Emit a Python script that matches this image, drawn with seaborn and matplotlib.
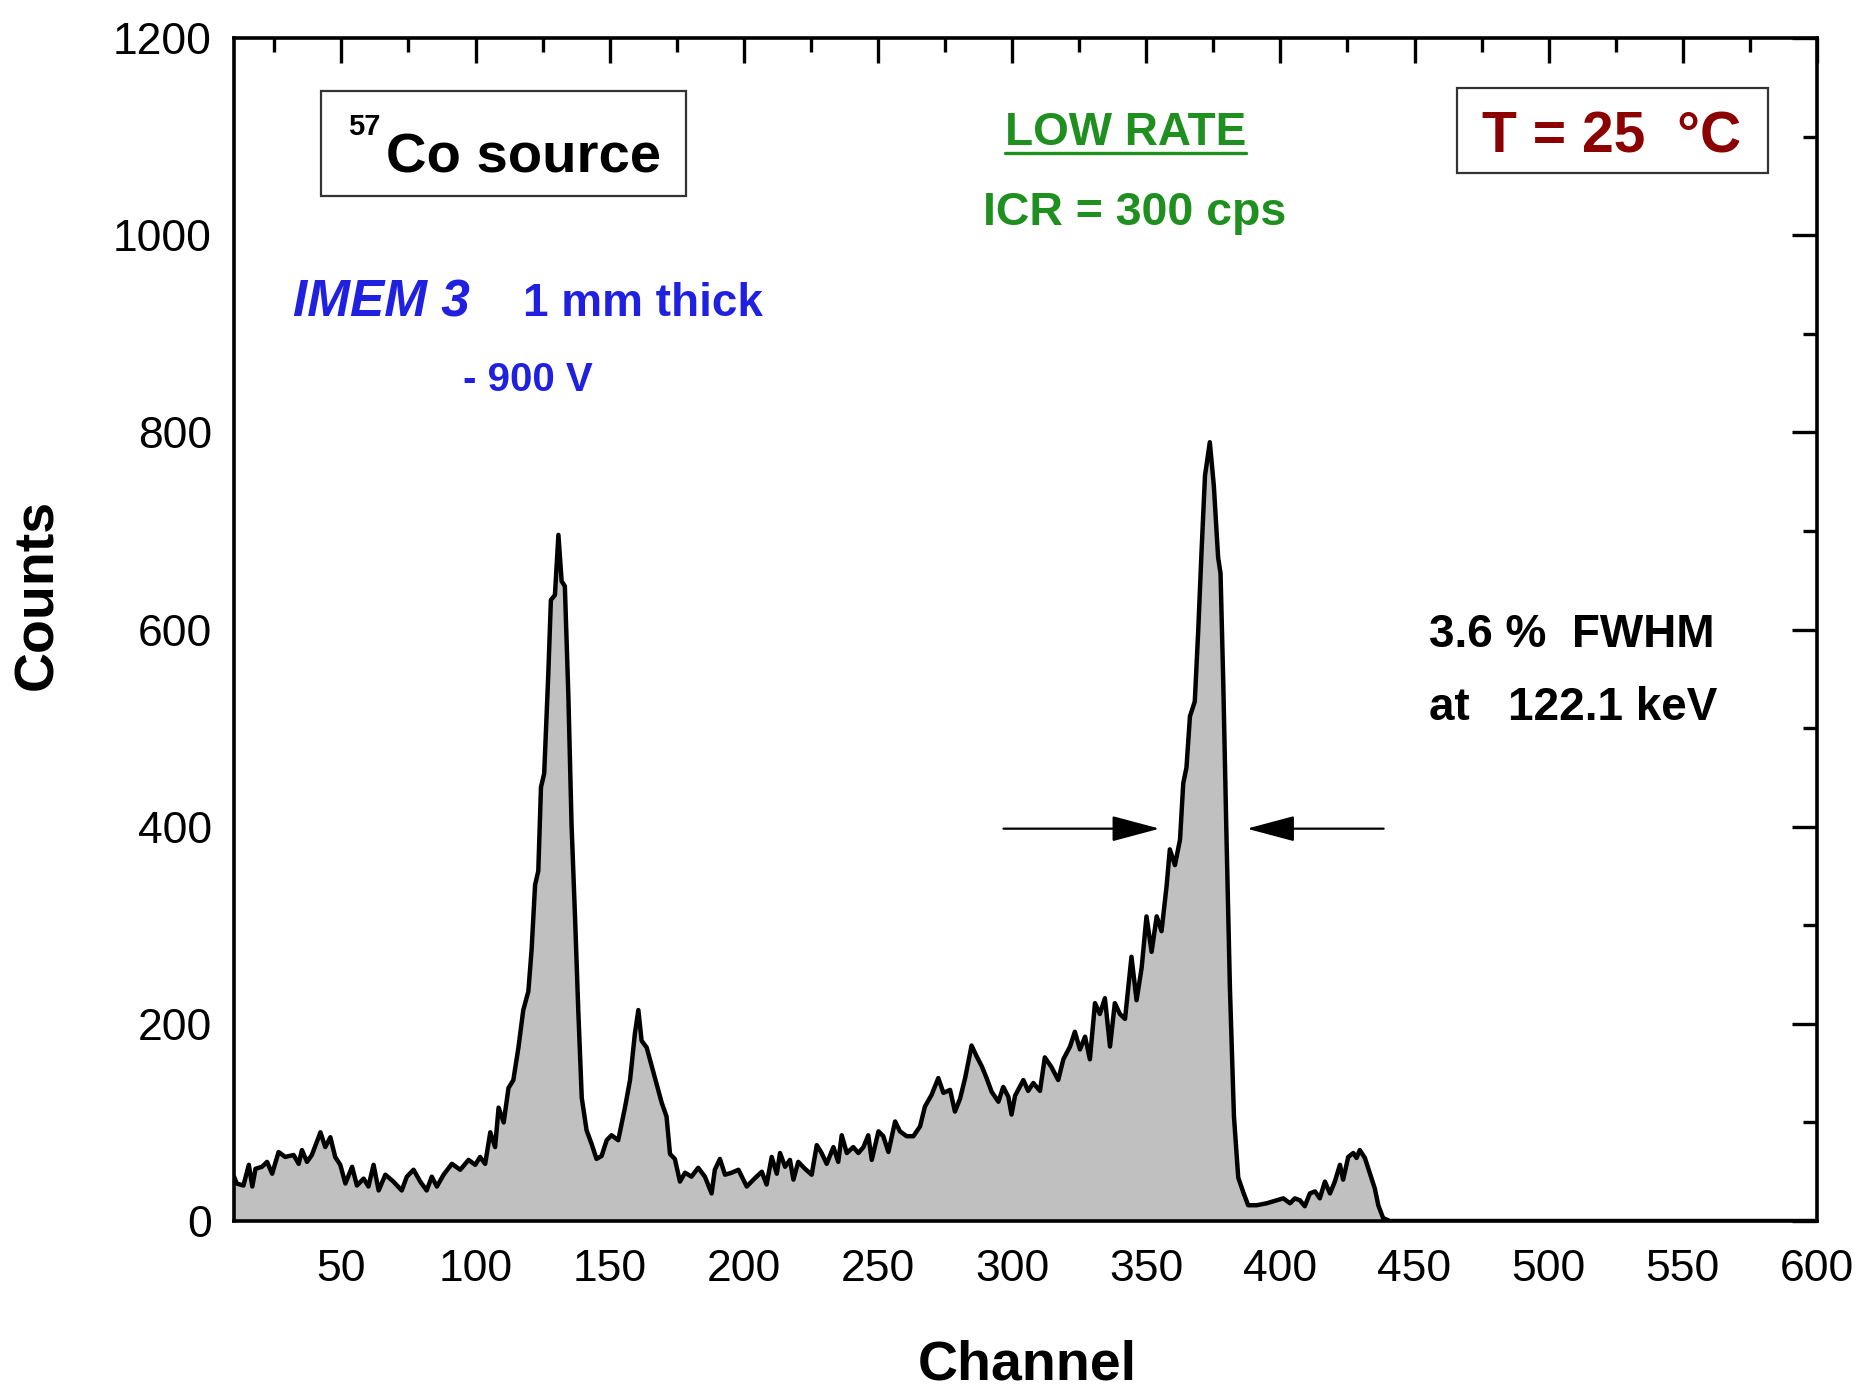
import numpy as np
import pandas as pd
import matplotlib
matplotlib.use("Agg")
import matplotlib.pyplot as plt
import seaborn as sns
from matplotlib.patches import Rectangle
from matplotlib.lines import Line2D
from matplotlib.ticker import MultipleLocator
from matplotlib.transforms import IdentityTransform

# ---- data ----
channel = [10, 11, 13.5, 15.5, 16.8, 18, 20.4, 22.3, 24.2, 26.6, 29.1, 32.2, 34.1, 35.3, 37.2, 39,
           42.2, 44, 45.9, 47.7, 49.6, 51.5, 54, 55.8, 58.3, 60.1, 62, 63.9, 66.4, 69.4, 72.5, 74.4,
           76.9, 79.4, 81.8, 83.7, 85.6, 88.1, 91.2, 94.3, 97.4, 99.9, 101.7, 103.6, 105.5, 107.3,
           108.6, 110.5, 112.3, 114.1, 116, 117.8, 119.7, 120.9, 122.2, 123.4, 124.4, 125.6, 127.1,
           128.1, 129.6, 130.9, 132.1, 133.3, 134.6, 135.8, 137.1, 138.3, 139.6, 141.4, 143.3, 145.1,
           147, 148.9, 150.7, 153.2, 155.7, 157.6, 159.4, 160.7, 161.9, 163.8, 165.6, 167.5, 169.4,
           171.2, 172.5, 174.3, 176.2, 178.1, 180.5, 183, 185.5, 188, 189.2, 191.1, 193, 195.5, 198,
           201.1, 203.6, 206.7, 208.5, 210.4, 212.3, 213.5, 215.4, 217.2, 218.5, 220.3, 222.8, 225.3,
           227.2, 229, 230.9, 233.4, 235.2, 236.5, 238.4, 240.8, 242.7, 244.6, 246.4, 247.7, 250.2,
           252, 253.9, 256.4, 258.2, 260.7, 263.2, 265.7, 267.5, 270, 272.5, 274.4, 276.9, 278.7,
           280.6, 282.5, 284.9, 286.8, 288.7, 290.5, 292.4, 294.9, 296.7, 298.6, 299.8,
           301.1, 304.2, 306, 307.9, 310.4, 312.2, 314.7, 317.2, 319.1, 321.6, 323.4, 325.3, 327.2,
           329, 330.9, 332.7, 334.6, 336.5, 338.3, 340.2, 342.1, 344.5, 346.4, 348.3, 350.1, 352,
           353.9, 355.7, 357.6, 358.8, 360.7, 362.6, 363.8, 365, 366.3, 368.1, 369.4, 370.6, 371.9,
           373.7, 375.2, 376.8, 377.7, 378.7, 379.9, 381.2, 382.7, 384.3, 386.2, 388, 391.1, 394.9,
           398.6, 401.1, 403.6, 405.4, 407.3, 409.1, 411, 412.9, 414.7, 416.6, 418.5, 420.3, 422.2,
           423.4, 425.3, 427.2, 428.4, 429.6, 431.5, 433.4, 435.2, 436.5, 438.3, 440.8, 600]
counts = [45, 38, 36, 57, 35, 53, 55, 60, 48, 70, 65, 67, 58, 72, 60, 67,
          90, 75, 85, 65, 57, 38, 55, 36, 43, 35, 57, 31, 47, 40, 31, 45,
          52, 40, 31, 45, 35, 47, 58, 52, 62, 57, 65, 58, 90, 75,
          115, 100, 135, 143, 176, 214, 233, 275, 341, 355, 440, 454, 553,
          630, 635, 696, 649, 644, 534, 402, 308, 214, 125, 92, 78, 63,
          66, 82, 87, 82, 115, 143, 190, 214, 183, 176, 158, 139, 120,
          106, 68, 63, 40, 49, 45, 54, 45, 28, 52, 63, 47, 49, 52,
          35, 42, 50, 37, 65, 48, 69, 55, 62, 42, 60, 53, 47,
          77, 69, 58, 75, 60, 87, 69, 75, 69, 75, 87, 62, 91,
          86, 70, 101, 91, 86, 86, 96, 116, 128, 145, 130, 133, 111,
          124, 145, 178, 167, 157, 145, 131, 121, 136, 126, 108,
          127, 143, 132, 140, 132, 166, 156, 143, 164, 177, 192, 174, 187,
          164, 221, 210, 226, 177, 221, 210, 205, 268, 224, 257, 309, 273,
          309, 294, 340, 377, 361, 387, 444, 460, 512, 527, 600, 678, 756,
          790, 746, 673, 657, 548, 392, 236, 106, 44, 29, 16, 16, 18,
          21, 23, 18, 23, 21, 15, 28, 30, 23, 40, 28, 40, 57,
          42, 65, 69, 64, 72, 64, 48, 33, 16, 3, 0, 0]

x_ticks = [50, 100, 150, 200, 250, 300, 350, 400, 450, 500, 550, 600]
y_ticks = [0, 200, 400, 600, 800, 1000, 1200]

sns.set_theme(style="white")
plt.rcParams["font.family"] = ["Liberation Sans", "DejaVu Sans"]
plt.rcParams["text.color"] = "black"
plt.rcParams["axes.labelcolor"] = "black"
plt.rcParams["xtick.color"] = "black"
plt.rcParams["ytick.color"] = "black"

fig = plt.figure(figsize=(18.62, 13.88), dpi=100)
ax = fig.add_axes([0.1257, 0.1203, 0.8501, 0.8523])

df = pd.DataFrame({"Channel": channel, "Counts": counts})
ax.fill_between(df["Channel"], df["Counts"], 0, color="#c0c0c0", lw=0, zorder=1)
sns.lineplot(data=df, x="Channel", y="Counts", ax=ax, color="black", lw=3.2,
             estimator=None, sort=False, zorder=2)

ax.set_xlim(10, 600)
ax.set_ylim(0, 1200)
ax.set_xticks(x_ticks)
ax.set_yticks(y_ticks)
ax.xaxis.set_minor_locator(MultipleLocator(25))
ax.yaxis.set_minor_locator(MultipleLocator(100))
ax.tick_params(which="both", direction="in", top=True, right=True, color="black",
               labelcolor="black")
ax.tick_params(which="major", length=18, width=2.4, labelsize=32)
ax.tick_params(which="minor", length=10, width=2.4)
ax.tick_params(axis="x", which="major", pad=20)
ax.tick_params(axis="y", which="major", pad=16)
for s in ax.spines.values():
    s.set_linewidth(2.6)
    s.set_color("black")
ax.grid(False)

ax.set_xlabel("Channel", fontsize=40, fontweight="bold", color="black")
ax.set_ylabel("Counts", fontsize=40, fontweight="bold", color="black")
ax.xaxis.set_label_coords(0.501, -0.100)
ax.yaxis.set_label_coords(-0.107, 0.53)

# ---- annotations ----
ax.add_patch(Rectangle((42.3, 1039.7), 136.3, 106.1, fill=False, ec="#333333", lw=1.6, zorder=3))
ax.text(52.5, 1102, "57", fontsize=21, fontweight="bold", ha="left", va="baseline")
ax.text(66.7, 1063.8, "Co source", fontsize=40.5, fontweight="bold", ha="left", va="baseline")

green = "#1f8f1f"
t_low = ax.text(342.2, 1091.5, "LOW RATE", fontsize=33, fontweight="bold", color=green,
                ha="center", va="baseline")
ax.text(345.5, 1010.8, "ICR = 300 cps", fontsize=33.5, fontweight="bold", color=green,
        ha="center", va="baseline")

ax.add_patch(Rectangle((465.9, 1062.6), 115.9, 86.8, fill=False, ec="#333333", lw=1.6, zorder=3))
ax.text(523.6, 1084.3, "T = 25  °C", fontsize=41, fontweight="bold", color="#8b0000",
        ha="center", va="baseline")

blue = "#2020e0"
ax.text(32.1, 918, "IMEM 3", fontsize=37, fontweight="bold", fontstyle="italic", color=blue,
        ha="left", va="baseline")
ax.text(117.6, 918, "1 mm thick", fontsize=33, fontweight="bold", color=blue,
        ha="left", va="baseline")
ax.text(95.4, 842, "- 900 V", fontsize=29, fontweight="bold", color=blue,
        ha="left", va="baseline")

ax.text(455.3, 582, "3.6 %  FWHM", fontsize=33, fontweight="bold", color="black",
        ha="left", va="baseline")
ax.text(455.3, 508, "at   122.1 keV", fontsize=33, fontweight="bold", color="black",
        ha="left", va="baseline")

arrow_style = dict(arrowstyle="-|>,head_length=1.2,head_width=0.32", color="black", lw=1.6,
                   mutation_scale=25, shrinkA=0, shrinkB=0)
ax.annotate("", xy=(355.0, 398), xytext=(296.8, 398), arrowprops=arrow_style)
ax.annotate("", xy=(387.5, 398), xytext=(438.5, 398), arrowprops=arrow_style)

# underline for LOW RATE, derived from the rendered text extent
fig.canvas.draw()
bb = t_low.get_window_extent(fig.canvas.get_renderer())
base_px = ax.transData.transform((342.2, 1091.5))[1]
fig.add_artist(Line2D([bb.x0, bb.x1], [base_px - 8, base_px - 8], color=green, lw=2.4,
                      transform=IdentityTransform()))

fig.savefig("out.png", dpi=100)
